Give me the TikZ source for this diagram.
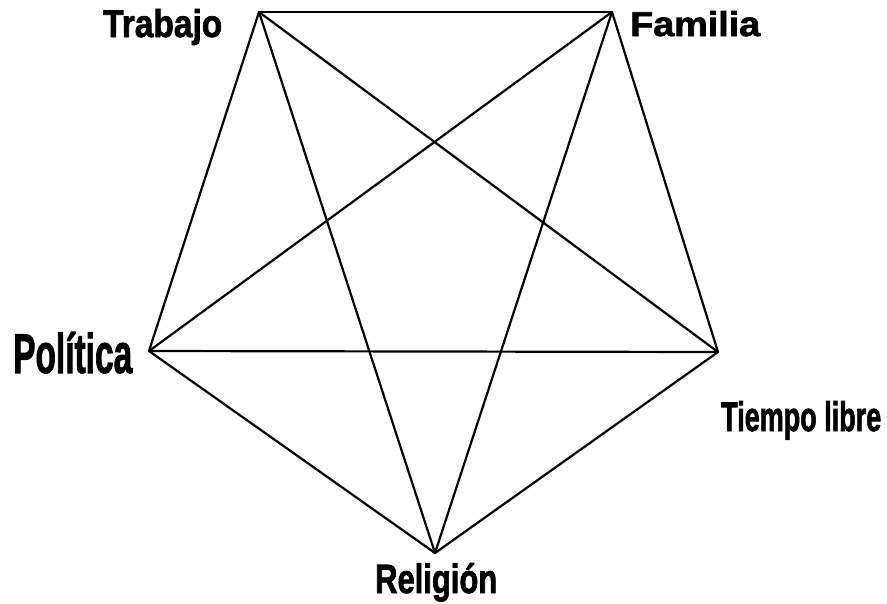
\documentclass[tikz,border=0pt]{standalone}
\usepackage{fontspec}
\setmainfont{Liberation Sans}[BoldFeatures={FakeBold=2}]
\begin{document}
\begin{tikzpicture}[x=1pt,y=-1pt,
  edge/.style={line width=2.2pt,line cap=round,line join=round},
  lab/.style={inner sep=0pt,anchor=base west,font=\bfseries}]
\useasboundingbox (0,0) rectangle (887,603);
\coordinate (T) at (259,12);
\coordinate (F) at (612,12);
\coordinate (L) at (718,352);
\coordinate (R) at (435,553);
\coordinate (P) at (149,351);
\foreach \a/\b in {T/F,T/L,T/R,T/P,F/L,F/R,F/P,L/R,L/P,R/P}
  \draw[edge] (\a) -- (\b);
\node[lab] (tt) at (103,37) {\resizebox{119pt}{28pt}{Trabajo}};
\node[lab] (ft) at (630,36) {\resizebox{130pt}{25pt}{Familia}};
\node[lab] (pt) at (13,373) {\resizebox{119pt}{41pt}{Política}};
\node[lab] (lt) at (721,431) {\resizebox{160pt}{30pt}{Tiempo libre}};
\node[lab] (rt) at (375,593) {\resizebox{122pt}{30pt}{Religión}};
\end{tikzpicture}
\end{document}
